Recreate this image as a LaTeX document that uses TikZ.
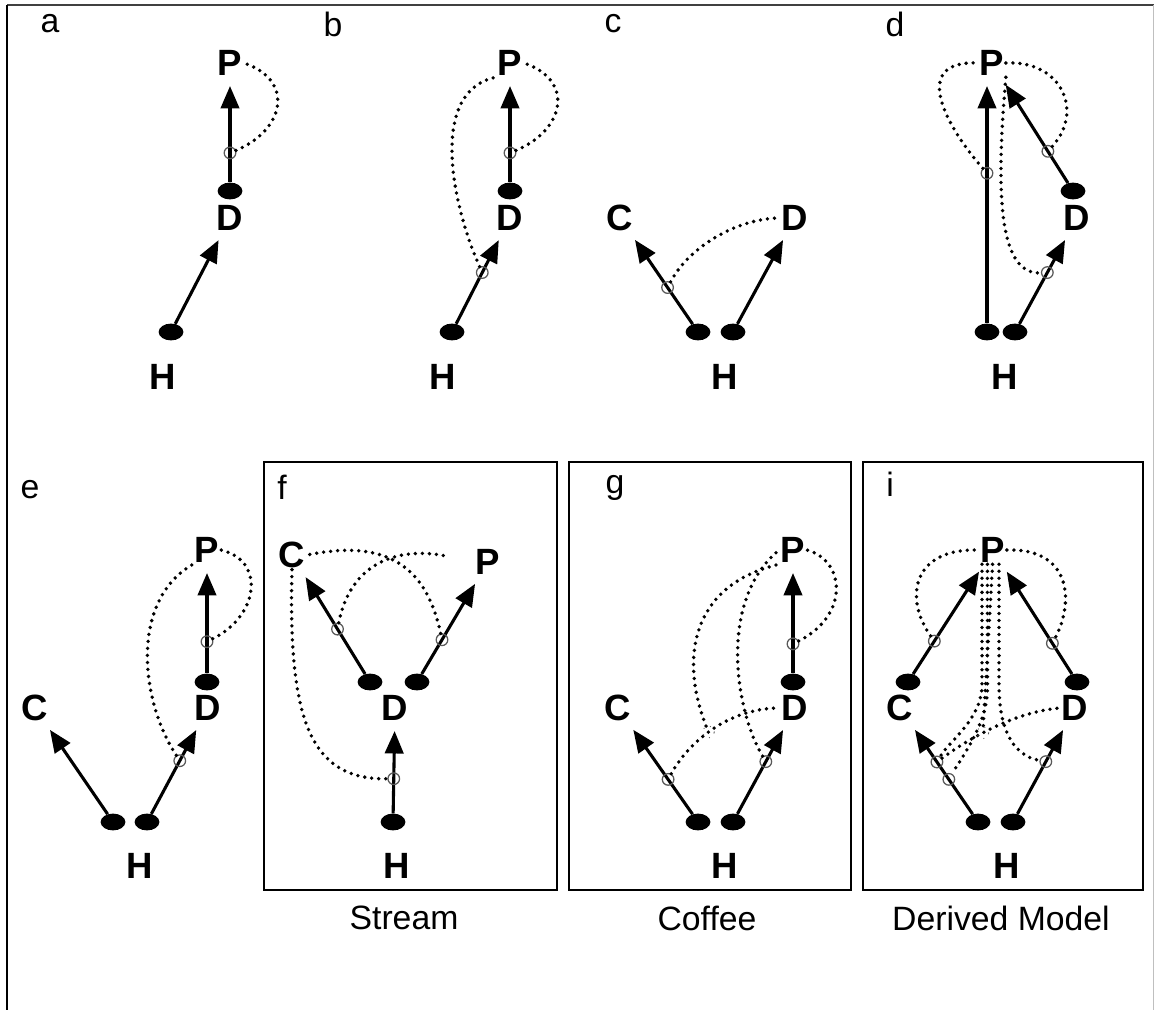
\documentclass[tikz,border=0pt]{standalone}
\usepackage{fontspec}
\setmainfont{Liberation Sans}
\usetikzlibrary{arrows.meta,shapes.geometric}

\tikzset{
	lett/.style={font=\fontsize{26}{26}\selectfont\bfseries,inner sep=1pt},
	plab/.style={font=\fontsize{24}{24}\selectfont},
	blob/.style={ellipse,fill=black,minimum width=6.2mm,minimum height=4.2mm,inner sep=0pt},
	ring/.style={circle,draw=black!65,line width=0.9pt,minimum size=2.9mm,inner sep=0pt},
	arr/.style={line width=2.2pt,-{Triangle[length=5.6mm,width=4.6mm]},shorten >=2.2mm},
	dots/.style={line width=2.7pt,line cap=round,dash pattern=on 0pt off 5pt},
	panelbox/.style={draw,line width=1.3pt},
}

\begin{document}
\begin{tikzpicture}[x=0.25mm,y=-0.25mm]

	\useasboundingbox (0,0) rectangle (1154,1010);
	\draw[line width=1.5pt,black!75] (7,5) -- (1154,5);
	\draw[line width=1.5pt] (7,5) -- (7,1010);
	\draw[line width=0.5pt,black!25] (1153,5) -- (1153,1010);

	% a
	\node[plab](alab) at (50,24) {a};
	\node[lett](aP) at (230,63) {P};
	\node[blob](aDe) at (230,191) {};
	\node[lett](aD) at (230,218) {D};
	\node[blob](aHe) at (171,332) {};
	\node[lett](aH) at (163,377) {H};
	\draw[arr] (aDe) -- node[ring,pos=0.28](ar1){} (aP);
	\draw[arr] (aHe) -- (aD);
	\draw[dots] (ar1) .. controls (285,130) and (295,80) .. (aP.east);

	% b
	\node[plab](blab) at (333,24) {b};
	\node[lett](bP) at (510,63) {P};
	\node[blob](bDe) at (510,191) {};
	\node[lett](bD) at (510,218) {D};
	\node[blob](bHe) at (452,332) {};
	\node[lett](bH) at (443,377) {H};
	\draw[arr] (bDe) -- node[ring,pos=0.28](br1){} (bP);
	\draw[arr] (bHe) -- node[ring,pos=0.56](br2){} (bD);
	\draw[dots] (br1) .. controls (565,130) and (575,80) .. (bP.east);
	\draw[dots] (br2) .. controls (450,200) and (430,90) .. (bP.south west);

	% c
	\node[plab](clab) at (613,24) {c};
	\node[lett](cC) at (620,218) {C};
	\node[lett](cD) at (795,218) {D};
	\node[blob](cHl) at (698,332) {};
	\node[blob](cHr) at (733,332) {};
	\node[lett](cH) at (725,377) {H};
	\draw[arr] (cHl) -- node[ring,pos=0.4](cr1){} (cC);
	\draw[arr] (cHr) -- (cD);
	\draw[dots] (cr1) .. controls (690,245) and (740,218) .. (cD.west);

	% d
	\node[plab](dlab) at (895,24) {d};
	\node[lett](dP) at (992,63) {P};
	\node[blob](dDe) at (1073,191) {};
	\node[lett](dD) at (1077,218) {D};
	\node[blob](dHl) at (987,332) {};
	\node[blob](dHr) at (1015,332) {};
	\node[lett](dH) at (1005,377) {H};
	\draw[arr] (dHl) -- node[ring,pos=0.61](dr1){} (dHl |- dP.south);
	\draw[arr] (dDe) -- node[ring,pos=0.3](dr2){} (dP);
	\draw[arr] (dHr) -- node[ring,pos=0.56](dr3){} (dD);
	\draw[dots] (dr1) .. controls (945,125) and (910,60) .. (dP.west);
	\draw[dots] (dP.east) .. controls (1060,60) and (1085,110) .. (dr2);
	\draw[dots] (dP.south east) .. controls (995,200) and (1000,275) .. (dr3);

	% e
	\node[plab](elab) at (30,490) {e};
	\node[lett](eP) at (207,550) {P};
	\node[blob](eDe) at (207,682) {};
	\node[lett](eD) at (208,708) {D};
	\node[lett](eC) at (35,708) {C};
	\node[blob](eHl) at (113,822) {};
	\node[blob](eHr) at (147,822) {};
	\node[lett](eH) at (140,866) {H};
	\draw[arr] (eDe) -- node[ring,pos=0.29](er1){} (eP);
	\draw[arr] (eHl) -- (eC);
	\draw[arr] (eHr) -- node[ring,pos=0.58](er2){} (eD);
	\draw[dots] (er1) .. controls (260,615) and (265,560) .. (eP.east);
	\draw[dots] (er2) .. controls (140,700) and (130,600) .. (eP.south west);

	% f
	\draw[panelbox] (264,462) rectangle (557,890);
	\node[plab](flab) at (282,487) {f};
	\node[lett](fC) at (292,555) {C};
	\node[lett](fP) at (488,562) {P};
	\node[blob](fHl) at (370,682) {};
	\node[blob](fHr) at (417,682) {};
	\node[lett](fD) at (395,708) {D};
	\node[blob](fHe) at (393,822) {};
	\node[lett](fH) at (397,866) {H};
	\node[plab](fcap) at (404,918) {Stream};
	\draw[arr] (fHl) -- node[ring,pos=0.43](fr1){} (fC);
	\draw[arr] (fHr) -- node[ring,pos=0.35](fr2){} (fP);
	\draw[arr] (fHe) -- node[ring,pos=0.38](fr3){} (fD);
	\draw[dots,shorten >=6.5mm] (fr1) .. controls (350,565) and (395,545) .. (fP.west);
	\draw[dots] (fr2) .. controls (425,560) and (380,540) .. (fC.east);
	\draw[dots] (fC.south) .. controls (288,720) and (310,780) .. (fr3);

	% g
	\draw[panelbox] (569,462) rectangle (851,890);
	\node[plab](glab) at (615,488) {g};
	\node[lett](gP) at (793,550) {P};
	\node[blob](gDe) at (793,682) {};
	\node[lett](gD) at (795,708) {D};
	\node[lett](gC) at (618,708) {C};
	\node[blob](gHl) at (698,822) {};
	\node[blob](gHr) at (733,822) {};
	\node[lett](gH) at (725,866) {H};
	\node[plab](gcap) at (707,918) {Coffee};
	\draw[arr] (gDe) -- node[ring,pos=0.27](gr1){} (gP);
	\draw[arr] (gHl) -- node[ring,pos=0.38](gr2){} (gC);
	\draw[arr] (gHr) -- node[ring,pos=0.57](gr3){} (gD);
	\draw[dots] (gr1) .. controls (850,615) and (845,560) .. (gP.east);
	\draw[dots] (gr2) .. controls (690,740) and (730,708) .. node[ring,pos=0.45](gr4){} (gD.west);
	\draw[dots] (gr4) .. controls (680,660) and (690,585) .. (gP.south west);
	\draw[dots] (gr3) .. controls (735,710) and (718,600) .. (gP.west);

	% i
	\draw[panelbox] (863,462) rectangle (1143,890);
	\node[plab](ilab) at (890,484) {i};
	\node[lett](iP) at (993,550) {P};
	\node[blob](iCe) at (908,682) {};
	\node[blob](iDe) at (1077,682) {};
	\node[lett](iC) at (900,708) {C};
	\node[lett](iD) at (1075,708) {D};
	\node[blob](iHl) at (978,822) {};
	\node[blob](iHr) at (1013,822) {};
	\node[lett](iH) at (1007,866) {H};
	\node[plab](icap) at (1001,918) {Derived Model};
	\draw[arr] (iCe) -- node[ring,pos=0.3](ir1){} (iP);
	\draw[arr] (iDe) -- node[ring,pos=0.28](ir2){} (iP);
	\draw[arr] (iHl) -- node[ring,pos=0.57](ir3){} node[ring,pos=0.38](ir4){} (iC);
	\draw[arr] (iHr) -- node[ring,pos=0.57](ir5){} (iD);
	\draw[dots] (ir1) .. controls (905,600) and (910,548) .. (iP.west);
	\draw[dots] (iP.east) .. controls (1070,548) and (1075,600) .. (ir2);
	\draw[dots] (ir3) .. controls (960,745) and (1010,712) .. node[ring,pos=0.45](ir6){} (iD.west);
	\draw[dots] ([xshift=-2.75mm]iP.south) -- ++(0,120) .. controls +(0,35) and (950,740) .. (ir3);
	\draw[dots] ([xshift=-1.4mm]iP.south) -- ++(0,125) .. controls +(0,35) and (960,760) .. (ir4);
	\draw[dots] ([xshift=-0.1mm]iP.south) -- (ir6);
	\draw[dots] ([xshift=1.5mm]iP.south) -- ++(0,120) .. controls +(0,40) and (1010,755) .. (ir5);

\end{tikzpicture}
\end{document}
